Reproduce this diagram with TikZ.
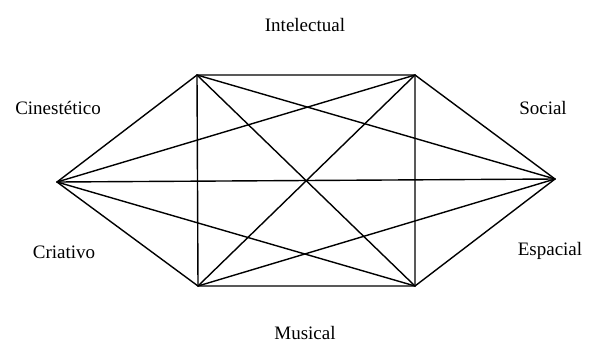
\documentclass[tikz,border=0pt]{standalone}
\usepackage{fontspec}
\setmainfont{Liberation Serif}
\begin{document}
\begin{tikzpicture}[x=1pt,y=-1pt,
  edge/.style={line width=1.4pt, line cap=round, line join=round},
  lbl/.style={font=\fontsize{19}{22}\selectfont, inner sep=0pt}]
\useasboundingbox (0,0) rectangle (589,346);
\coordinate (TL) at (197,75);
\coordinate (TR) at (415,75);
\coordinate (BL) at (198,286);
\coordinate (BR) at (415,286);
\coordinate (L) at (57,182);
\coordinate (R) at (555,179);
% rectangle and diagonals
\draw[edge] (TL) -- (TR) -- (BR) -- (BL) -- cycle;
\draw[edge] (TL) -- (BR);
\draw[edge] (TR) -- (BL);
% left point
\draw[edge] (L) -- (TL);
\draw[edge] (L) -- (TR);
\draw[edge] (L) -- (R);
\draw[edge] (L) -- (BL);
\draw[edge] (L) -- (BR);
% right point
\draw[edge] (R) -- (TL);
\draw[edge] (R) -- (TR);
\draw[edge] (R) -- (BL);
\draw[edge] (R) -- (BR);
% labels
\node[lbl] (intel) at (305,25) {Intelectual};
\node[lbl] (cines) at (58,108) {Cinestético};
\node[lbl] (social) at (543,108) {Social};
\node[lbl] (criat) at (64,252) {Criativo};
\node[lbl] (espac) at (550,251) {Espacial};
\node[lbl] (music) at (305,333) {Musical};
\end{tikzpicture}
\end{document}
